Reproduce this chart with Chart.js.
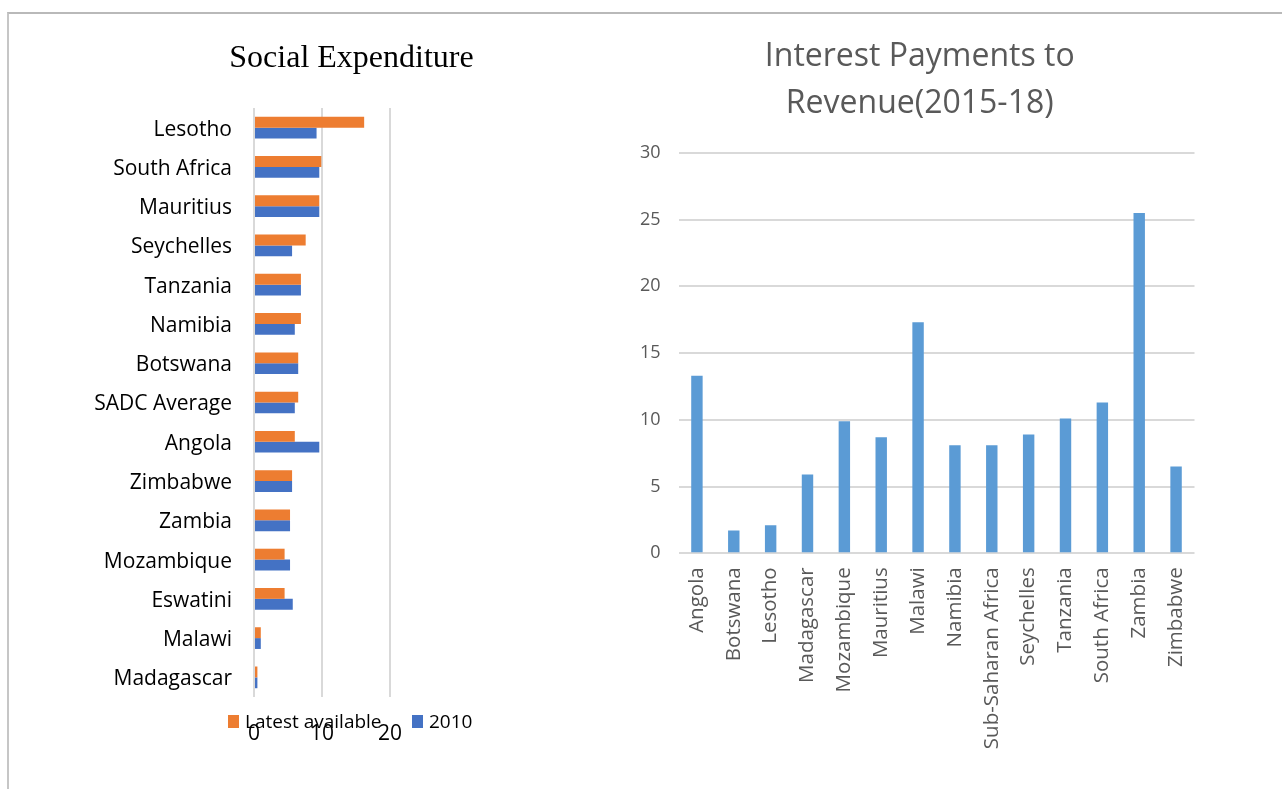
<!DOCTYPE html>
<html>
<head>
<meta charset="utf-8">
<title>Social Expenditure and Interest Payments</title>
<script src="https://cdn.jsdelivr.net/npm/chart.js@4.4.1/dist/chart.umd.min.js"></script>
<style>
  html, body { margin: 0; padding: 0; background: #ffffff; width: 1282px; height: 789px; overflow: hidden; }
  #frame { position: absolute; left: 7px; top: 12px; width: 1290px; height: 800px;
           border-top: 2px solid #b9b9b9; border-left: 2px solid #c6c6c6; }
  #left  { position: absolute; left: 10px;  top: 14px; width: 590px; height: 775px; }
  #right { position: absolute; left: 600px; top: 14px; width: 640px; height: 775px; }
</style>
</head>
<body>
<div id="frame"></div>
<div id="left"><canvas id="socialChart"></canvas></div>
<div id="right"><canvas id="interestChart"></canvas></div>
<script>
// ---- Social expenditure (% of GDP) ----
const seCategories = ['Lesotho', 'South Africa', 'Mauritius', 'Seychelles', 'Tanzania', 'Namibia',
  'Botswana', 'SADC Average', 'Angola', 'Zimbabwe', 'Zambia', 'Mozambique', 'Eswatini', 'Malawi', 'Madagascar'];
const seLatest = [16.2, 9.9, 9.6, 7.6, 6.9, 6.9, 6.5, 6.5, 6.0, 5.6, 5.3, 4.5, 4.5, 1.0, 0.5];
const se2010   = [9.2, 9.6, 9.6, 5.6, 6.9, 6.0, 6.5, 6.0, 9.6, 5.6, 5.3, 5.3, 5.7, 1.0, 0.5];
const seSeriesNames = ['Latest available', '2010'];
const seTicks = [0, 10, 20];

// ---- Interest payments to revenue, 2015-18 (%) ----
const ipCategories = ['Angola', 'Botswana', 'Lesotho', 'Madagascar', 'Mozambique', 'Mauritius', 'Malawi',
  'Namibia', 'Sub-Saharan Africa', 'Seychelles', 'Tanzania', 'South Africa', 'Zambia', 'Zimbabwe'];
const ipValues = [13.3, 1.7, 2.1, 5.9, 9.9, 8.7, 17.3, 8.1, 8.1, 8.9, 10.1, 11.3, 25.5, 6.5];
const ipTicks = [0, 5, 10, 15, 20, 25, 30];

const SANS = "'Open Sans', 'Liberation Sans', sans-serif";
const GRID = '#d9d9d9';

// Title and legend of the social expenditure panel
const socialOverlay = {
  id: 'socialOverlay',
  afterDraw(chart, args, opts) {
    const ctx = chart.ctx;
    const area = chart.chartArea;
    ctx.save();
    ctx.fillStyle = '#000000';
    ctx.font = "32px 'Liberation Serif', 'Times New Roman', serif";
    ctx.textAlign = 'center';
    ctx.textBaseline = 'alphabetic';
    ctx.fillText(opts.title, 341.5, 52.7);

    ctx.font = '19px ' + SANS;
    ctx.textAlign = 'left';
    const y = area.bottom + 18;
    const starts = [218, 402];
    chart.data.datasets.forEach((ds, i) => {
      const x = starts[i];
      ctx.fillStyle = ds.backgroundColor;
      ctx.fillRect(x, y, 11, 13);
      ctx.fillStyle = '#000000';
      ctx.fillText(ds.label, x + 17, y + 13);
    });
    ctx.restore();
  }
};

// The value axis is kept narrow so the title stays centred; widen its label clip box after layout
const widenValueAxis = {
  id: 'widenValueAxis',
  afterLayout(chart) {
    chart.scales.y.left = 0;
  }
};

new Chart(document.getElementById('socialChart'), {
  type: 'bar',
  data: {
    labels: seCategories,
    datasets: [
      { label: seSeriesNames[0], data: seLatest, backgroundColor: '#ED7D31' },
      { label: seSeriesNames[1], data: se2010,   backgroundColor: '#4472C4' }
    ]
  },
  plugins: [socialOverlay],
  options: {
    indexAxis: 'y',
    responsive: true,
    maintainAspectRatio: false,
    animation: false,
    events: [],
    layout: { padding: { top: 94, right: 210, bottom: 0, left: 0 } },
    datasets: { bar: { categoryPercentage: 0.553, barPercentage: 1.0 } },
    plugins: {
      legend: { display: false },
      tooltip: { enabled: false },
      socialOverlay: { title: 'Social Expenditure' }
    },
    scales: {
      x: {
        min: seTicks[0],
        max: seTicks[seTicks.length - 1],
        afterBuildTicks: s => { s.ticks = seTicks.map(v => ({ value: v })); },
        ticks: { color: '#000000', font: { family: SANS, size: 21 }, padding: 24, maxRotation: 0 },
        grid: { color: GRID, lineWidth: 2, drawTicks: false },
        border: { display: false },
        afterFit: s => { s.height = 92; }
      },
      y: {
        ticks: { color: '#000000', font: { family: SANS, size: 21 }, padding: 22, labelOffset: 2 },
        grid: { display: false, drawTicks: false },
        border: { display: false },
        afterFit: s => { s.width = 244; }
      }
    }
  }
});

new Chart(document.getElementById('interestChart'), {
  type: 'bar',
  data: {
    labels: ipCategories,
    datasets: [
      { label: 'Interest payments to revenue', data: ipValues, backgroundColor: '#5B9BD5' }
    ]
  },
  plugins: [widenValueAxis],
  options: {
    responsive: true,
    maintainAspectRatio: false,
    animation: false,
    events: [],
    layout: { padding: { top: 0, right: 45.5, bottom: 0, left: 45 } },
    datasets: { bar: { categoryPercentage: 1.0, barPercentage: 0.31 } },
    plugins: {
      legend: { display: false },
      tooltip: { enabled: false },
      title: {
        display: true,
        text: ['Interest Payments to', 'Revenue(2015-18)'],
        color: '#595959',
        font: { family: SANS, size: 32, weight: 'normal', lineHeight: 1.45 },
        padding: { top: 20, bottom: 26 }
      }
    },
    scales: {
      x: {
        ticks: { color: '#595959', font: { family: SANS, size: 20.5 }, minRotation: 90, maxRotation: 90,
                 padding: 14, autoSkip: false },
        grid: { display: false, drawTicks: false },
        border: { display: false },
        afterFit: s => { s.height = 235.7; }
      },
      y: {
        min: ipTicks[0],
        max: ipTicks[ipTicks.length - 1],
        afterBuildTicks: s => { s.ticks = ipTicks.map(v => ({ value: v })); },
        ticks: { color: '#595959', font: { family: SANS, size: 18 }, padding: 18 },
        grid: { color: GRID, lineWidth: 2, drawTicks: false },
        border: { display: false },
        afterFit: s => { s.width = 33.5; }
      }
    }
  }
});
</script>
</body>
</html>
